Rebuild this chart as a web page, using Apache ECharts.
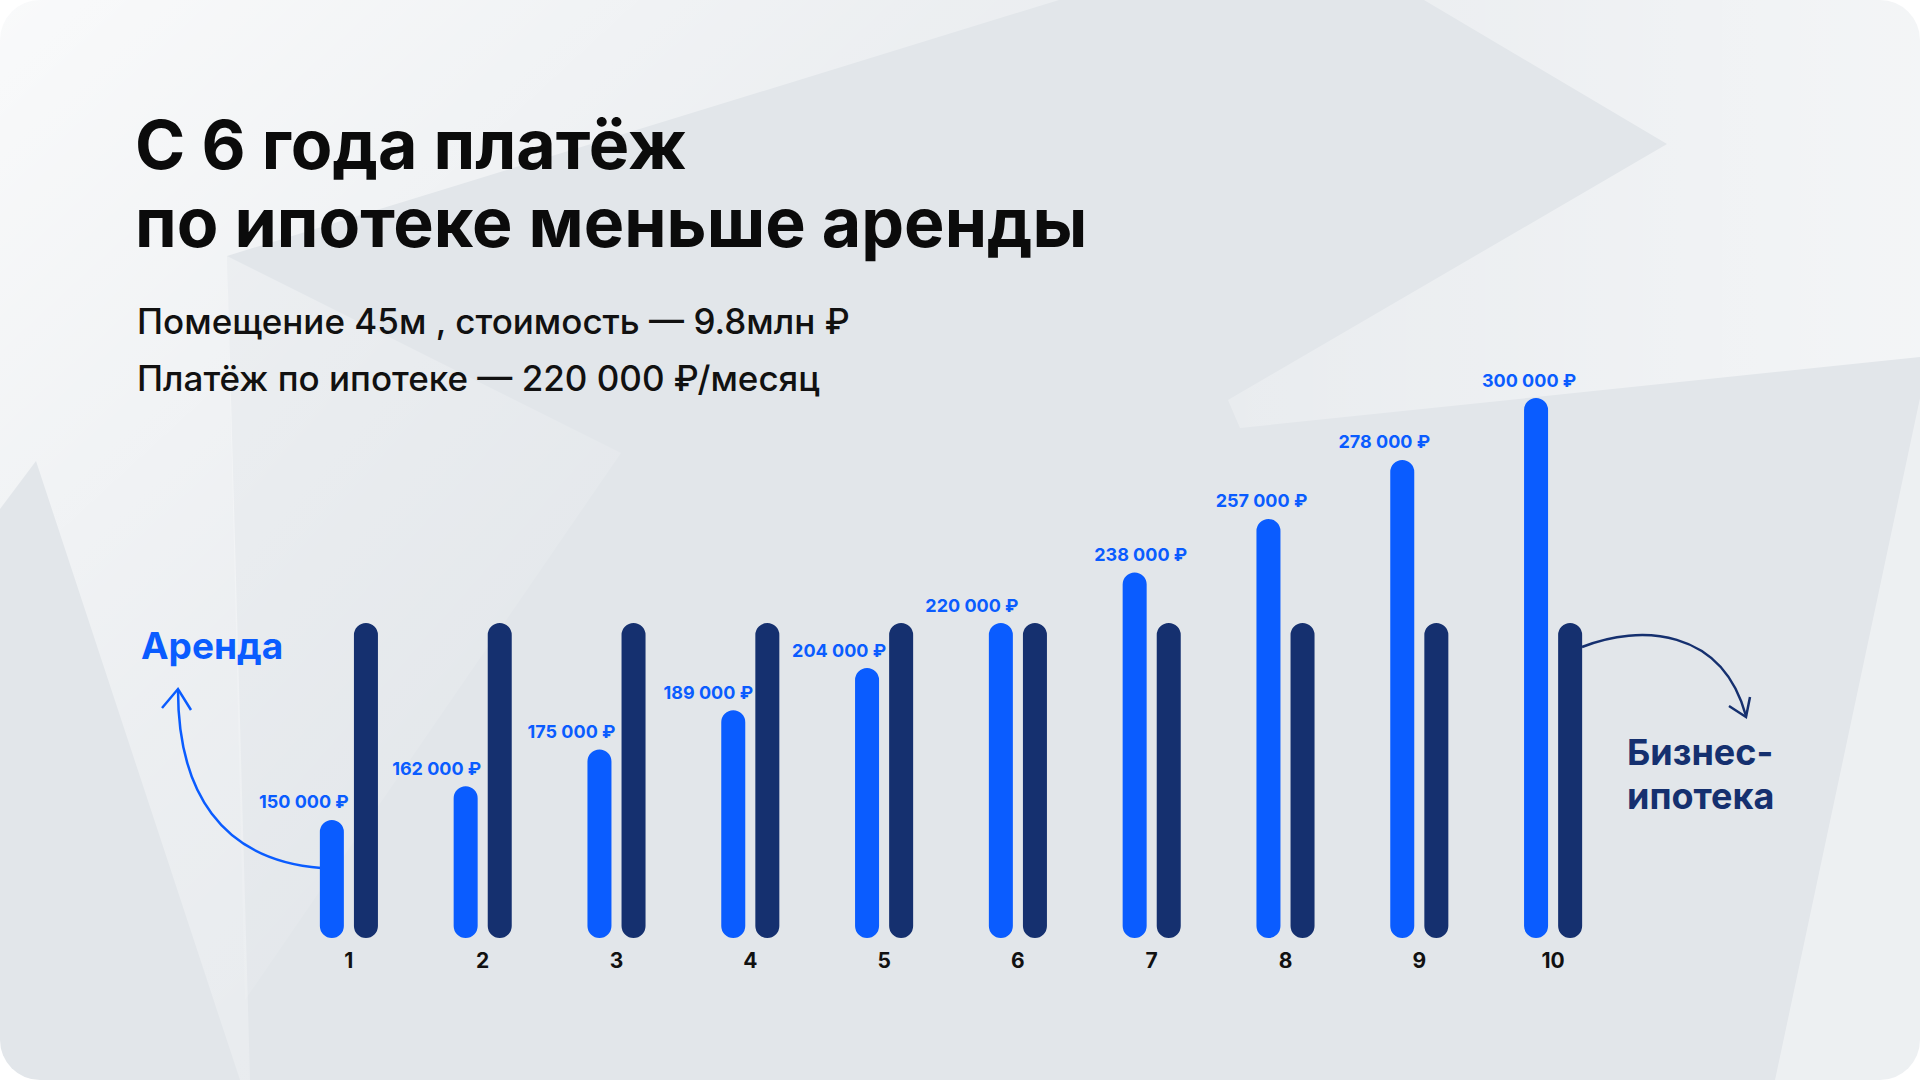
<!DOCTYPE html>
<html>
<head>
<meta charset="utf-8">
<script src="https://cdn.jsdelivr.net/npm/echarts@6/dist/echarts.min.js"></script>
<style>
	html, body { margin: 0; padding: 0; background: #ffffff; }
	#chart { width: 1920px; height: 1080px; }
</style>
</head>
<body>
<div id="chart"></div>
<script>
	// годы
	var years = ['1', '2', '3', '4', '5', '6', '7', '8', '9', '10'];
	// аренда, ₽/месяц
	var rent = [150000, 162000, 175000, 189000, 204000, 220000, 238000, 257000, 278000, 300000];
	// платёж по бизнес-ипотеке, ₽/месяц
	var mortgage = [220000, 220000, 220000, 220000, 220000, 220000, 220000, 220000, 220000, 220000];
	// сдвиг подписей по x (как на макете)
	var labelDx = [-28, -29, -28, -25, -28, -29, 6, -7, -18, -7];

	var BLUE = '#0a5cff';
	var NAVY = '#15306f';
	var FONT = 'Inter, "Noto Sans", sans-serif';

	function fmt(v) {
		return String(v).replace(/\B(?=(\d{3})+(?!\d))/g, ' ') + ' ₽';
	}

	// фон: светлые многоугольники
	function poly(points, fill) {
		return {
			type: 'polygon',
			silent: true,
			z: -9,
			shape: { points: points },
			style: { fill: fill }
		};
	}

	var option = {
		animation: false,
		textStyle: { fontFamily: FONT },
		grid: {
			left: 282,
			right: 300,
			top: 398,
			bottom: 142
		},
		xAxis: {
			type: 'category',
			data: years,
			axisLine: { show: false },
			axisTick: { show: false },
			axisLabel: {
				margin: 12,
				color: '#111111',
				fontSize: 21,
				fontWeight: 700,
				fontFamily: FONT
			}
		},
		yAxis: {
			type: 'value',
			min: 108000,
			max: 300000,
			show: false,
			splitLine: { show: false }
		},
		series: [{
			name: 'Аренда',
			type: 'bar',
			data: rent.map(function(v, i) {
				return {
					value: v,
					label: { offset: [labelDx[i], 0] }
				};
			}),
			barWidth: 24,
			barGap: '42%',
			itemStyle: {
				color: BLUE,
				borderRadius: 12
			},
			label: {
				show: true,
				position: 'top',
				distance: 9,
				color: BLUE,
				fontSize: 18,
				fontWeight: 700,
				fontFamily: FONT,
				formatter: function(p) { return fmt(p.value); }
			}
		}, {
			name: 'Бизнес-ипотека',
			type: 'bar',
			data: mortgage,
			barWidth: 24,
			itemStyle: {
				color: NAVY,
				borderRadius: 12
			}
		}],
		graphic: [
			{
				type: 'rect',
				silent: true,
				z: -10,
				shape: { x: 0, y: 0, width: 1920, height: 1080, r: 40 },
				style: { fill: '#e2e6ea' }
			},
			// светлая зона слева сверху
			poly([[0, 0], [1059, 0], [227, 256], [250, 1080], [240, 1080], [36, 461], [0, 509]], {
				type: 'linear', x: 0, y: 0, x2: 0.9, y2: 1,
				colorStops: [
					{ offset: 0, color: 'rgba(255,255,255,0.8)' },
					{ offset: 0.45, color: 'rgba(255,255,255,0.35)' },
					{ offset: 1, color: 'rgba(255,255,255,0.05)' }
				]
			}),
			// светлый треугольник под заголовком
			poly([[227, 256], [621, 453], [245, 1000]], {
				type: 'linear', x: 0, y: 0, x2: 0.6, y2: 1,
				colorStops: [
					{ offset: 0, color: 'rgba(255,255,255,0.35)' },
					{ offset: 1, color: 'rgba(255,255,255,0)' }
				]
			}),
			// светлый клин справа сверху
			poly([[1424, 0], [1920, 0], [1920, 357], [1240, 428], [1228, 400], [1667, 144]], {
				type: 'linear', x: 0, y: 0, x2: 1, y2: 0,
				colorStops: [
					{ offset: 0, color: 'rgba(255,255,255,0.25)' },
					{ offset: 1, color: 'rgba(255,255,255,0.6)' }
				]
			}),
			// светлый треугольник справа снизу
			poly([[1920, 398], [1775, 1080], [1920, 1080]], 'rgba(255,255,255,0.4)'),

			// заголовок
			{
				type: 'text',
				x: 135, y: 144,
				style: {
					text: 'С 6 года платёж',
					font: '700 68px ' + FONT,
					fill: '#0b0b0b',
					textVerticalAlign: 'middle'
				}
			},
			{
				type: 'text',
				x: 135, y: 222,
				style: {
					text: 'по ипотеке меньше аренды',
					font: '700 68px ' + FONT,
					fill: '#0b0b0b',
					textVerticalAlign: 'middle'
				}
			},
			{
				type: 'text',
				x: 137, y: 321,
				style: {
					text: 'Помещение 45м , стоимость — 9.8млн ₽',
					font: '500 35px ' + FONT,
					fill: '#111111',
					textVerticalAlign: 'middle'
				}
			},
			{
				type: 'text',
				x: 137, y: 378,
				style: {
					text: 'Платёж по ипотеке — 220 000 ₽/месяц',
					font: '500 35px ' + FONT,
					fill: '#111111',
					textVerticalAlign: 'middle'
				}
			},

			// подпись «Аренда» и стрелка
			{
				type: 'text',
				x: 141, y: 645,
				style: {
					text: 'Аренда',
					font: '700 37px ' + FONT,
					fill: BLUE,
					textVerticalAlign: 'middle'
				}
			},
			{
				type: 'bezierCurve',
				silent: true,
				shape: { x1: 321, y1: 868, cpx1: 220, cpy1: 860, cpx2: 178, cpy2: 790, x2: 178, y2: 690 },
				style: { stroke: BLUE, lineWidth: 2.5, fill: null }
			},
			{
				type: 'polyline',
				silent: true,
				shape: { points: [[162, 708], [178, 689], [191, 710]] },
				style: { stroke: BLUE, lineWidth: 2.5, fill: null }
			},

			// подпись «Бизнес-ипотека» и стрелка
			{
				type: 'text',
				x: 1627, y: 752,
				style: {
					text: 'Бизнес-',
					font: '700 36px ' + FONT,
					fill: NAVY,
					textVerticalAlign: 'middle'
				}
			},
			{
				type: 'text',
				x: 1627, y: 796,
				style: {
					text: 'ипотека',
					font: '700 36px ' + FONT,
					fill: NAVY,
					textVerticalAlign: 'middle'
				}
			},
			{
				type: 'bezierCurve',
				silent: true,
				shape: { x1: 1582, y1: 647, cpx1: 1640, cpy1: 624, cpx2: 1722, cpy2: 628, x2: 1746, y2: 716 },
				style: { stroke: NAVY, lineWidth: 2.5, fill: null }
			},
			{
				type: 'polyline',
				silent: true,
				shape: { points: [[1729, 706], [1746, 717], [1750, 697]] },
				style: { stroke: NAVY, lineWidth: 2.5, fill: null }
			}
		]
	};

	var myChart = echarts.init(document.getElementById('chart'), null, { renderer: 'svg' });
	myChart.setOption(option);
</script>
</body>
</html>
